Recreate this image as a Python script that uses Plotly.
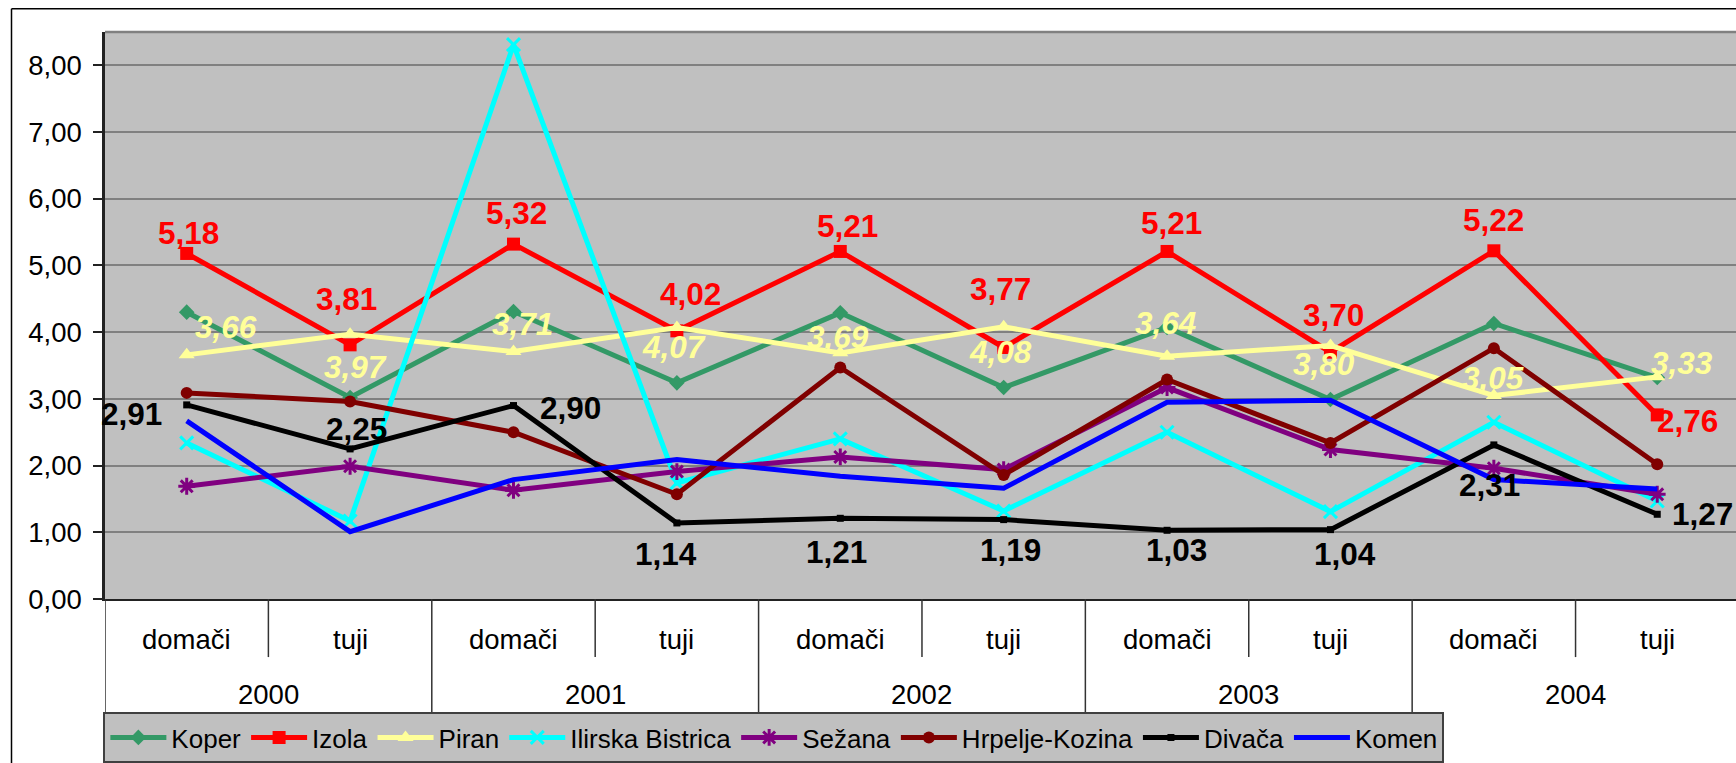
import plotly.graph_objects as go

# ---------------- data ----------------
years = ["2000", "2001", "2002", "2003", "2004"]
kinds = ["domači", "tuji"]

koper = [4.30, 3.02, 4.31, 3.24, 4.29, 3.17, 4.07, 2.99, 4.13, 3.32]
izola = [5.18, 3.81, 5.32, 4.02, 5.21, 3.77, 5.21, 3.70, 5.22, 2.76]
piran = [3.66, 3.97, 3.71, 4.07, 3.69, 4.08, 3.64, 3.80, 3.05, 3.33]
ilirska_bistrica = [2.34, 1.17, 8.31, 1.74, 2.40, 1.32, 2.50, 1.31, 2.65, 1.47]
sezana = [1.69, 1.99, 1.63, 1.91, 2.13, 1.94, 3.17, 2.24, 1.96, 1.57]
hrpelje_kozina = [3.09, 2.96, 2.50, 1.57, 3.47, 1.86, 3.29, 2.34, 3.76, 2.02]
divaca = [2.91, 2.25, 2.90, 1.14, 1.21, 1.19, 1.03, 1.04, 2.31, 1.27]
komen = [2.67, 1.01, 1.79, 2.09, 1.84, 1.66, 2.95, 2.98, 1.79, 1.65]

series_names = ["Koper", "Izola", "Piran", "Ilirska Bistrica", "Sežana",
                "Hrpelje-Kozina", "Divača", "Komen"]

# label offsets in screen pixels (dx right, dy down) relative to the point
izola_label_offset = [(2, -20), (-4, -46), (3, -31), (14, -37), (7, -25),
                      (-3, -59), (4, -28), (3, -37), (0, -31), (30, 6)]
piran_label_offset = [(39, -28), (5, 33), (9, -28), (-3, 19), (-2, -16),
                      (-3, 25), (-2, -33), (-6, 18), (-1, -18), (25, -14)]
divaca_label_offset = [(-55, 9), (6, -20), (57, 2), (-11, 31), (-4, 34),
                       (7, 30), (9, 20), (15, 24), (-4, 40), (45, 0)]

# ---------------- figure ----------------
FONT = "Liberation Sans, Arial, sans-serif"
categories = [(y, k) for y in years for k in kinds]
xs = list(range(len(categories)))

styles = {
    "Koper": dict(color="#339966", symbol="diamond", size=12),
    "Izola": dict(color="#FF0000", symbol="square", size=13),
    "Piran": dict(color="#FFFF99", symbol="triangle-up", size=14),
    "Ilirska Bistrica": dict(color="#00FFFF", symbol="x-thin-open", size=13),
    "Sežana": dict(color="#800080", symbol="asterisk-open", size=14),
    "Hrpelje-Kozina": dict(color="#800000", symbol="circle", size=12),
    "Divača": dict(color="#000000", symbol="square", size=7),
    "Komen": dict(color="#0000FF", symbol=None, size=0),
}
values = [koper, izola, piran, ilirska_bistrica, sezana, hrpelje_kozina, divaca, komen]

fig = go.Figure()
for name, vals in zip(series_names, values):
    st = styles[name]
    marker = dict(color=st["color"], size=st["size"])
    if st["symbol"]:
        marker["symbol"] = st["symbol"]
    if st["symbol"] and st["symbol"].endswith("-open"):
        marker["line"] = dict(color=st["color"], width=3)
    fig.add_trace(go.Scatter(
        x=xs, y=vals, name=name,
        mode="lines+markers" if st["symbol"] else "lines",
        line=dict(color=st["color"], width=5),
        marker=marker,
    ))

def fmt(v):
    return f"{v:.2f}".replace(".", ",")

annotations = []
def add_labels(vals, offs, color, italic=False):
    for x, v, (dx, dy) in zip(xs, vals, offs):
        annotations.append(dict(
            x=x, y=v, xref="x", yref="y", text=fmt(v), showarrow=False,
            xshift=dx, yshift=-dy,
            font=dict(family=FONT, size=31.5, color=color, weight="bold",
                      style="italic" if italic else "normal"),
        ))

add_labels(izola, izola_label_offset, "#FF0000")
add_labels(piran, piran_label_offset, "#FFFF99", italic=True)
add_labels(divaca, divaca_label_offset, "#000000")

# category axis labels (two levels)
H = 576.0
def py(px_below):  # pixels below plot bottom -> paper y
    return -px_below / H

for x, (y, k) in zip(xs, categories):
    annotations.append(dict(x=x, y=py(41), xref="x", yref="paper", text=k,
                            showarrow=False, yanchor="middle",
                            font=dict(family=FONT, size=27.5, color="black")))
for i, y in enumerate(years):
    annotations.append(dict(x=2 * i + 0.5, y=py(97), xref="x", yref="paper", text=y,
                            showarrow=False, yanchor="middle",
                            font=dict(family=FONT, size=27.5, color="black")))

shapes = []
for i in range(len(categories) + 1):
    b = i - 0.5
    long_div = (i % 2 == 0)
    shapes.append(dict(type="line", xref="x", yref="paper", x0=b, x1=b,
                       y0=0, y1=py(115 if long_div else 59),
                       line=dict(color="#333333", width=1.5)))
# plot-area top border
shapes.append(dict(type="line", xref="paper", yref="paper", x0=0, x1=1, y0=1, y1=1,
                   line=dict(color="#808080", width=2.5)))
# chart-area border (left and top)
bx = (11.5 - 105) / 1631.0
by = (608 - 8.3) / H
shapes.append(dict(type="line", xref="paper", yref="paper", x0=bx, x1=1.2, y0=by, y1=by,
                   line=dict(color="black", width=1.5)))
shapes.append(dict(type="line", xref="paper", yref="paper", x0=bx, x1=bx, y0=by, y1=-0.5,
                   line=dict(color="black", width=1.5)))

fig.update_layout(
    width=1736, height=763,
    margin=dict(l=105, r=0, t=32, b=155, pad=0),
    paper_bgcolor="white",
    plot_bgcolor="#C0C0C0",
    separators=",.",
    font=dict(family=FONT, color="black"),
    annotations=annotations,
    shapes=shapes,
    showlegend=True,
    legend=dict(
        orientation="h", x=-0.001, xanchor="left", y=py(115.3), yanchor="top",
        bgcolor="#C0C0C0", bordercolor="#404040", borderwidth=2,
        font=dict(family=FONT, size=26, color="black"),
        itemwidth=56, tracegroupgap=0,
    ),
    xaxis=dict(
        range=[-0.5, 9.482], showgrid=False, zeroline=False,
        showticklabels=False, ticks="",
        showline=True, linecolor="#222222", linewidth=2,
    ),
    yaxis=dict(
        range=[0, 8.5], dtick=1, tick0=0, tickformat=".2f",
        showgrid=True, gridcolor="#808080", gridwidth=1.5, zeroline=False,
        showline=True, linecolor="#222222", linewidth=2.5,
        ticks="outside", ticklen=9, tickcolor="#222222", tickwidth=1.5,
        tickfont=dict(family=FONT, size=27.5, color="black"),
        ticklabelstandoff=6,
    ),
)

fig.write_html("out.html", config={"displayModeBar": False},
               post_script="document.body.style.margin='0';")
